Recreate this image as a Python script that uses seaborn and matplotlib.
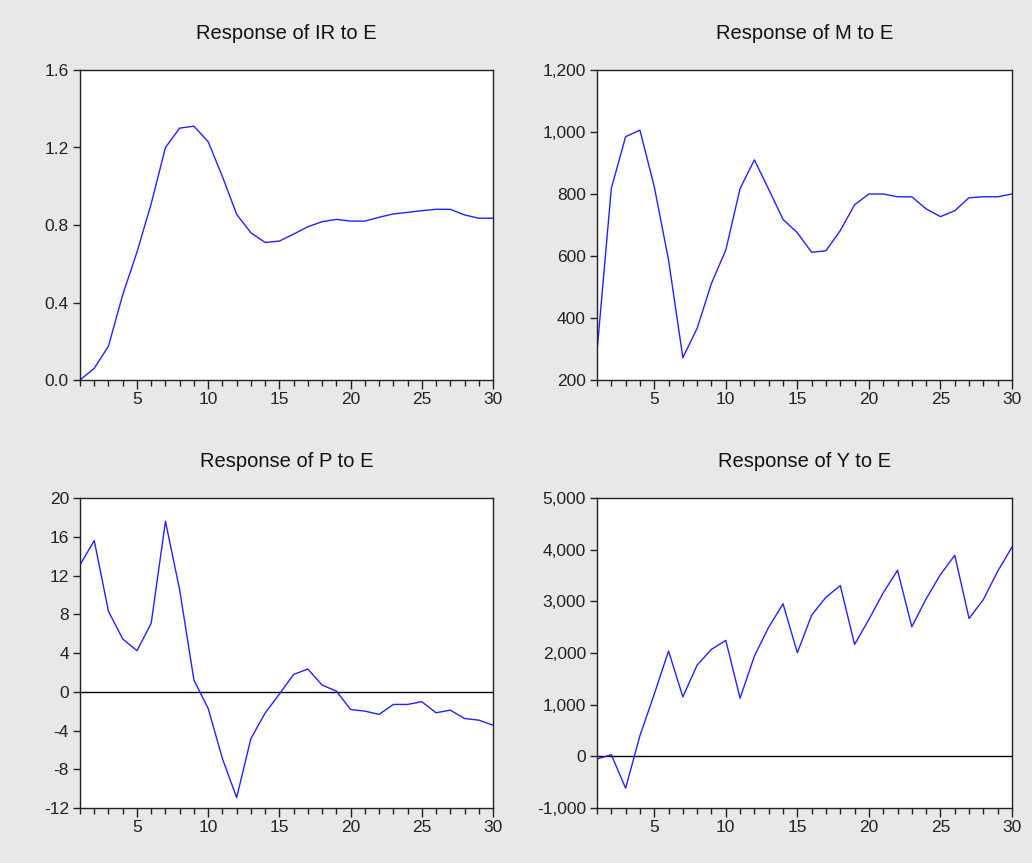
import numpy as np
import pandas as pd
import matplotlib
matplotlib.use("Agg")
import matplotlib.pyplot as plt
from matplotlib.ticker import MultipleLocator, FuncFormatter
import seaborn as sns

# impulse responses, periods 1..30
periods = list(range(1, 31))

ir_resp = [0.00, 0.06, 0.175, 0.44, 0.66, 0.91, 1.20, 1.30, 1.31, 1.23,
           1.05, 0.855, 0.76, 0.71, 0.717, 0.753, 0.791, 0.817, 0.829, 0.82,
           0.82, 0.84, 0.857, 0.865, 0.874, 0.881, 0.881, 0.852, 0.835, 0.835]

m_resp = [291, 818, 985, 1006, 824, 587, 272, 367, 512, 619,
          818, 910, 815, 718, 675, 612, 617, 682, 765, 800,
          800, 791, 791, 752, 727, 746, 788, 791, 791, 800]

p_resp = [13.1, 15.6, 8.3, 5.45, 4.24, 7.07, 17.6, 10.5, 1.2, -1.72,
          -6.9, -10.93, -4.83, -2.2, -0.24, 1.79, 2.34, 0.69, 0.07, -1.83,
          -2.0, -2.34, -1.31, -1.31, -1.03, -2.17, -1.9, -2.76, -2.93, -3.45]

y_resp = [-51, 32, -617, 399, 1203, 2039, 1151, 1768, 2071, 2244,
          1125, 1942, 2500, 2952, 2006, 2733, 3080, 3305, 2167, 2650,
          3164, 3601, 2508, 3048, 3518, 3891, 2669, 3035, 3582, 4051]

titles = ["Response of IR to E", "Response of M to E",
          "Response of P to E", "Response of Y to E"]

sns.set_style("ticks")
plt.rcParams["font.family"] = ["Liberation Sans", "DejaVu Sans"]

fig = plt.figure(figsize=(10.32, 8.63), dpi=100)
fig.patch.set_facecolor("#e8e8e8")

W, H = 1032, 863
boxes = [(80, 70, 493, 380), (597, 70, 1012, 380),
         (80, 498, 493, 808), (597, 498, 1012, 808)]

panels = [
    (ir_resp, (0, 1.6), 0.4, lambda v, p: f"{v:.1f}", False),
    (m_resp, (200, 1200), 200, lambda v, p: f"{v:,.0f}", False),
    (p_resp, (-12, 20), 4, lambda v, p: f"{v:.0f}", True),
    (y_resp, (-1000, 5000), 1000, lambda v, p: f"{v:,.0f}", True),
]

for (l, t, r, b), title, (vals, ylim, step, fmt, zero) in zip(boxes, titles, panels):
    ax = fig.add_axes([l / W, 1 - b / H, (r - l) / W, (b - t) / H])
    ax.set_facecolor("white")
    df = pd.DataFrame({"period": periods, "value": vals})
    if zero:
        ax.axhline(0, color="black", lw=1.0, zorder=1)
    sns.lineplot(data=df, x="period", y="value", ax=ax, color="#2222ff", lw=1.0)
    ax.set_xlim(1, 30)
    ax.set_ylim(*ylim)
    ax.xaxis.set_major_locator(MultipleLocator(5))
    ax.xaxis.set_minor_locator(MultipleLocator(1))
    ax.yaxis.set_major_locator(MultipleLocator(step))
    ax.yaxis.set_major_formatter(FuncFormatter(fmt))
    ax.set_xlabel("")
    ax.set_ylabel("")
    ax.set_title(title, fontsize=14.5, color="#111111", pad=22)
    for s in ax.spines.values():
        s.set_visible(True)
        s.set_color("#222222")
        s.set_linewidth(1.0)
    ax.tick_params(axis="x", which="major", length=6.5, width=1.0, labelsize=12.5,
                   pad=2, colors="#222222")
    ax.tick_params(axis="x", which="minor", length=4.3, width=1.0, colors="#222222")
    ax.tick_params(axis="y", which="major", length=5, width=1.0, labelsize=12.5,
                   pad=3, colors="#222222")

fig.savefig("out.png", dpi=100, facecolor=fig.get_facecolor())
